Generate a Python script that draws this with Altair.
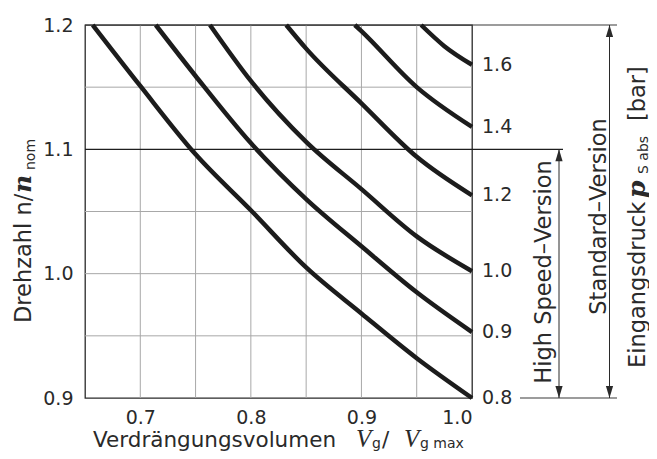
import altair as alt
import pandas as pd

# ---------------- data ----------------
pressures = ["0.8", "0.9", "1.0", "1.2", "1.4", "1.6"]
curve_v = [
    [0.657, 0.70, 0.75, 0.80, 0.85, 0.90, 0.95, 1.00],
    [0.714, 0.75, 0.80, 0.85, 0.90, 0.95, 1.00],
    [0.763, 0.80, 0.85, 0.90, 0.95, 1.00],
    [0.832, 0.85, 0.90, 0.95, 1.00],
    [0.894, 0.90, 0.95, 1.00],
    [0.954, 0.975, 1.00],
]
curve_n = [
    [1.200, 1.151, 1.096, 1.051, 1.005, 0.968, 0.932, 0.900],
    [1.200, 1.159, 1.105, 1.060, 1.022, 0.985, 0.953],
    [1.200, 1.155, 1.106, 1.068, 1.030, 1.002],
    [1.200, 1.181, 1.137, 1.094, 1.063],
    [1.200, 1.195, 1.150, 1.118],
    [1.200, 1.183, 1.168],
]
x_ticks = [0.7, 0.8, 0.9, 1.0]
y_ticks = [0.9, 1.0, 1.1, 1.2]
x_grid = [0.7, 0.75, 0.8, 0.85, 0.9, 0.95]
y_grid = [0.95, 1.0, 1.05, 1.15]

rows = []
for p, vs, ns in zip(pressures, curve_v, curve_n):
    for v, n in zip(vs, ns):
        rows.append({"p": p, "v": v, "n": n})
curves = pd.DataFrame(rows)
ends = pd.DataFrame({"p": pressures,
                     "v": [vs[-1] for vs in curve_v],
                     "n": [ns[-1] for ns in curve_n]})

TXT = "#2a2a2a"
SANS = "DejaVu Sans"
SERIF = "DejaVu Serif"
TIMES = "Liberation Serif"
W, H = 387, 373

xs = alt.Scale(domain=[0.65, 1.0], nice=False, zero=False)
ys = alt.Scale(domain=[0.9, 1.2], nice=False, zero=False)

xgrid = alt.Chart(pd.DataFrame({"g": x_grid})).mark_rule(
    color="#a8a8a8", strokeWidth=1).encode(x=alt.X("g:Q", scale=xs))
ygrid = alt.Chart(pd.DataFrame({"g": y_grid})).mark_rule(
    color="#a8a8a8", strokeWidth=1).encode(y=alt.Y("g:Q", scale=ys))

def hline(val, x1, x2, color="#2a2a2a", w=1.3):
    return alt.Chart(pd.DataFrame({"a": [0]})).mark_rule(color=color, strokeWidth=w).encode(
        y=alt.datum(val), x=alt.value(x1), x2=alt.value(x2))

def vline(xpx, y1, y2):
    return alt.Chart(pd.DataFrame({"a": [0]})).mark_rule(color="#2a2a2a", strokeWidth=1).encode(
        x=alt.value(xpx), y=alt.datum(y1), y2=alt.datum(y2))

def head(xpx, yval, up=True):
    path = "M0,0L0.6,2L-0.6,2Z" if up else "M0,0L0.6,-2L-0.6,-2Z"
    return alt.Chart(pd.DataFrame({"a": [0]})).mark_point(
        shape=path, filled=True, size=144, color="#2a2a2a", opacity=1, strokeWidth=0).encode(
        x=alt.value(xpx), y=alt.datum(yval))

def label(text, x, y, font=SANS, size=22.5, angle=0, align="left",
          style="normal", weight="normal", baseline="alphabetic"):
    return alt.Chart(pd.DataFrame({"t": [text]})).mark_text(
        font=font, fontSize=size, angle=angle, align=align, baseline=baseline,
        fontStyle=style, fontWeight=weight, color=TXT).encode(
        x=alt.value(x), y=alt.value(y), text="t:N")

lines = alt.Chart(curves).mark_line(
    color="#1c1c1c", strokeWidth=4.5, interpolate="monotone", strokeCap="butt").encode(
    x=alt.X("v:Q", scale=xs,
            axis=alt.Axis(values=x_ticks, format=".1f", grid=False, ticks=False, domain=False,
                          labelFont=SANS, labelFontSize=19, labelColor=TXT,
                          labelPadding=10, title=None)),
    y=alt.Y("n:Q", scale=ys,
            axis=alt.Axis(values=y_ticks, format=".1f", grid=False, ticks=False, domain=False,
                          labelFont=SANS, labelFontSize=19, labelColor=TXT,
                          labelPadding=12, title=None)),
    detail="p:N",
)

end_labels = alt.Chart(ends).mark_text(
    font=SANS, fontSize=19, align="left", baseline="middle", dx=10, color=TXT).encode(
    x=alt.X("v:Q", scale=xs), y=alt.Y("n:Q", scale=ys), text="p:N")

BY = 421.5   # bottom title baseline (plot coords)
RX = 559.5   # right title baseline (plot coords)
layers = [
    xgrid, ygrid,
    hline(1.2, 0, 532, color="#3a3a3a", w=1.2),
    hline(1.1, 0, 478, color="#1e1e1e", w=1.4),
    hline(0.9, 435, 532, color="#3a3a3a", w=1.2),
    vline(524.5, 1.2, 0.9), head(524.5, 1.2, True), head(524.5, 0.9, False),
    vline(474, 1.1, 0.9), head(474, 1.1, True), head(474, 0.9, False),
    lines, end_labels,
    # bottom title
    label("Verdrängungsvolumen", 8, BY, size=21.5),
    label("V", 271, BY, font=TIMES, size=25, style="italic"),
    label("g", 287, BY + 1.5, size=14),
    label("/", 297, BY, size=21.5),
    label("V", 319, BY, font=TIMES, size=25, style="italic"),
    label("g max", 335, BY + 1.5, size=14),
    # left title
    label("Drehzahl n/", -54, 298, angle=270),
    label("n", -54, 168, font=SERIF, size=25, angle=270, style="italic", weight="bold"),
    label("nom", -50, 145, size=14, angle=270),
    # right titles
    label("High Speed–Version", 465.7, 247, angle=270, align="center"),
    label("Standard–Version", 521, 191.5, angle=270, align="center"),
    label("Eingangsdruck", RX, 343, angle=270),
    label("p", RX, 173, font=SERIF, size=25, angle=270, style="italic", weight="bold"),
    label("S abs", RX + 3, 149, size=14, angle=270),
    label("[bar]", RX, 96, angle=270),
]

chart = alt.layer(*layers).properties(
    width=W, height=H,
    autosize=alt.AutoSizeParams(type="none"),
    padding={"left": 77, "top": 17, "right": 177, "bottom": 53},
).configure_view(stroke="#2a2a2a", strokeWidth=1.3)

chart.save("out.html", embed_options={"renderer": "svg", "actions": False})
